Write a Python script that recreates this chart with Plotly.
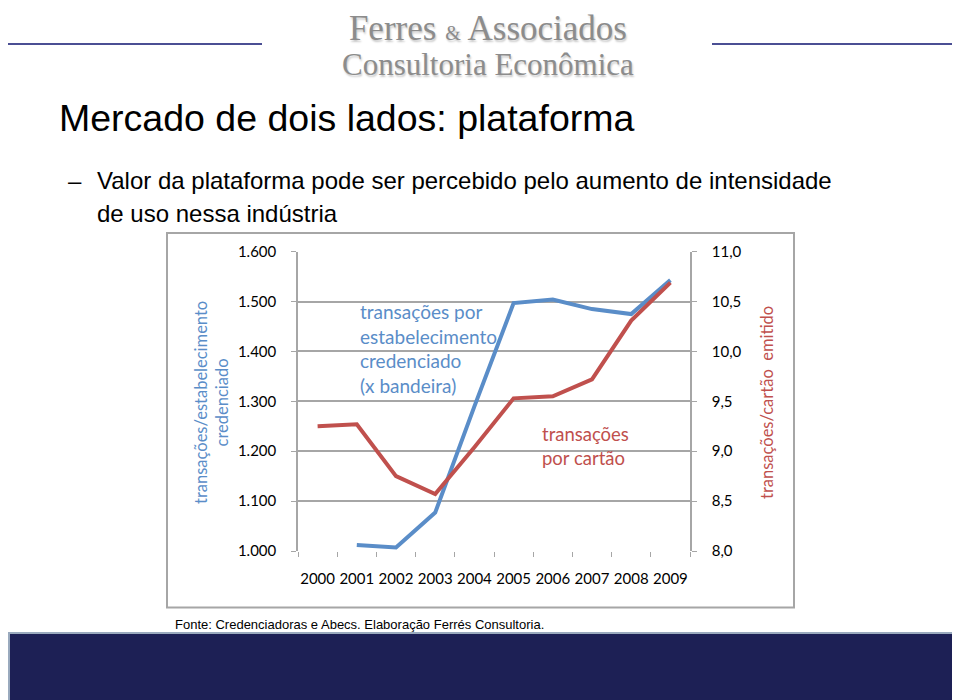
import plotly.graph_objects as go

# chart data
years = ["2000", "2001", "2002", "2003", "2004", "2005", "2006", "2007", "2008", "2009"]
tx_por_estab = [None, 1012, 1007, 1077, 1290, 1497, 1504, 1485, 1475, 1543]
tx_por_cartao = [9.25, 9.27, 8.75, 8.57, 9.04, 9.53, 9.55, 9.72, 10.31, 10.69]

left_ticks = [1000, 1100, 1200, 1300, 1400, 1500, 1600]
right_ticks = [8.0, 8.5, 9.0, 9.5, 10.0, 10.5, 11.0]

BLUE = "#5A8DC8"
RED = "#C0504D"
GRID = "#A6A6A6"
W, H = 960, 700
OFF = 8  # the page body margin shifts the figure by 8px


def px(x):
    return max(x - OFF, 0) / W


def py(y):
    return 1 - max(y - OFF, 0) / H


fig = go.Figure()
fig.add_trace(go.Scatter(x=years, y=tx_por_estab, mode="lines",
                         line=dict(color=BLUE, width=4), connectgaps=False,
                         name="transações por estabelecimento"))
fig.add_trace(go.Scatter(x=years, y=tx_por_cartao, mode="lines", yaxis="y2",
                         line=dict(color=RED, width=4),
                         name="transações por cartão"))

tick_font = dict(family="Lato", size=15, color="black")

fig.update_layout(
    width=W, height=H,
    margin=dict(l=0, r=0, t=0, b=0, pad=0, autoexpand=False),
    paper_bgcolor="white", plot_bgcolor="white",
    showlegend=False,
    separators=",.",
    xaxis=dict(
        domain=[px(298), px(690)],
        type="category", range=[-0.5, 9.5],
        tickson="boundaries", ticks="outside", ticklen=5, tickcolor=GRID,
        showline=False, showgrid=False, zeroline=False,
        tickfont=tick_font, tickangle=0, ticklabelstandoff=17,
    ),
    yaxis=dict(
        domain=[py(551), py(251.7)],
        range=[1000, 1600], tickvals=left_ticks, tickformat=",d",
        ticks="outside", ticklen=5, tickcolor=GRID,
        showline=True, linecolor=GRID, linewidth=1.5,
        showgrid=True, gridcolor=GRID, gridwidth=1.5, zeroline=False,
        tickfont=tick_font, ticklabelstandoff=12,
    ),
    yaxis2=dict(
        overlaying="y", side="right",
        range=[8.0, 11.0], tickvals=right_ticks, tickformat=".1f",
        ticks="outside", ticklen=5, tickcolor=GRID,
        showline=True, linecolor=GRID, linewidth=1.5,
        showgrid=False, zeroline=False,
        tickfont=tick_font, ticklabelstandoff=12,
    ),
)

shapes = [
    # chart frame
    dict(type="rect", xref="paper", yref="paper", x0=px(167), x1=px(794), y0=py(607.5), y1=py(233),
         line=dict(color="#A6A6A6", width=2), layer="below"),
    # header lines
    dict(type="line", xref="paper", yref="paper", x0=0, x1=px(262), y0=py(44), y1=py(44),
         line=dict(color="#4B4F94", width=2)),
    dict(type="line", xref="paper", yref="paper", x0=px(712), x1=1, y0=py(44), y1=py(44),
         line=dict(color="#4B4F94", width=2)),
    # bottom bar
    dict(type="rect", xref="paper", yref="paper", x0=px(9), x1=px(959), y0=py(712), y1=py(633),
         fillcolor="#1D2055", line=dict(color="#9AAABE", width=2)),
]

annotations = [
    # header logo (two lines in one text)
    dict(x=px(488), y=1, xanchor="center", yanchor="top", borderpad=0,
         text="<span style='font-size:35px'>Ferres <span style='font-size:20px'>&</span> Associados</span>"
              "<br><span style='font-size:31px'>Consultoria Econômica</span>",
         font=dict(family="Liberation Serif", size=27, color="#8C8C8C", shadow="1px 2px 2px #C8C8C8")),
    # slide title and bullet
    dict(x=px(57), y=py(118), xanchor="left", text="Mercado de dois lados: plataforma",
         font=dict(family="Liberation Sans", size=37.5, color="black")),
    dict(x=px(66), y=py(181), xanchor="left", text="–",
         font=dict(family="Liberation Sans", size=24, color="black")),
    dict(x=px(95), y=py(181), xanchor="left",
         text="Valor da plataforma pode ser percebido pelo aumento de intensidade",
         font=dict(family="Liberation Sans", size=24, color="black")),
    dict(x=px(95), y=py(214), xanchor="left", text="de uso nessa indústria",
         font=dict(family="Liberation Sans", size=24, color="black")),
    # axis titles
    dict(x=px(211), y=py(403), xanchor="center", text="transações/estabelecimento<br>credenciado",
         textangle=-90, font=dict(family="Lato", size=16.5, color=BLUE)),
    dict(x=px(767), y=py(403), xanchor="center", text="transações/cartão  emitido",
         textangle=-90, font=dict(family="Lato", size=16.5, color=RED)),
    # series labels
    dict(x=px(358), y=py(349), xanchor="left", align="left",
         text="transações por<br>estabelecimento<br>credenciado<br>(x bandeira)",
         font=dict(family="Lato", size=19, color=BLUE)),
    dict(x=px(540), y=py(446), xanchor="left", align="left",
         text="transações<br>por cartão",
         font=dict(family="Lato", size=18.5, color=RED)),
    # source
    dict(x=px(173), y=py(624), xanchor="left",
         text="Fonte: Credenciadoras e Abecs. Elaboração Ferrés Consultoria.",
         font=dict(family="Liberation Sans", size=13, color="black")),
]
for a in annotations:
    a.setdefault("xref", "paper")
    a.setdefault("yref", "paper")
    a.setdefault("yanchor", "middle")
    a.setdefault("showarrow", False)

fig.update_layout(shapes=shapes, annotations=annotations)

fig.write_html("out.html")
